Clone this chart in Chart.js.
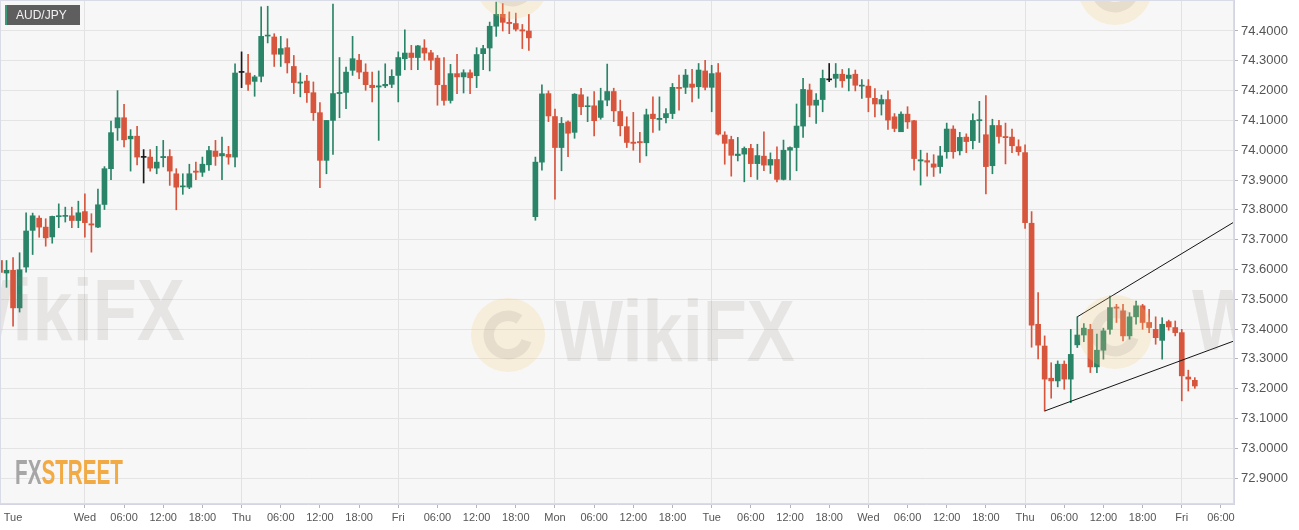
<!DOCTYPE html>
<html>
<head>
<meta charset="utf-8">
<script src="https://cdn.jsdelivr.net/npm/chart.js@4.4.1/dist/chart.umd.min.js"></script>
<style>
  html, body { margin: 0; padding: 0; background: #fff; }
</style>
</head>
<body>
<canvas id="cchart" width="1299" height="530"></canvas>
<script>
// AUD/JPY hourly candles
const firstHour = 11;   // first candle = Tue 11:00
const dayNames = ["Tue", "Wed", "Thu", "Fri", "Mon", "Tue", "Wed", "Thu", "Fri"];
const slots = 190;      // hourly slots on the axis, the last few are empty

const opens = [73.63,73.588,73.597,73.471,73.608,73.731,73.772,73.742,73.709,73.777,73.778,73.78,73.764,73.794,73.753,73.742,73.818,73.938,74.075,74.109,
  74.038,74.047,73.976,73.977,73.94,73.975,73.979,73.921,73.877,73.876,73.93,73.926,73.951,73.997,73.981,73.986,73.977,74.261,74.259,74.231,
  74.248,74.383,74.38,74.322,74.344,74.281,74.225,74.232,74.193,74.126,73.966,74.10,74.19,74.194,74.268,74.302,74.262,74.218,74.212,74.216,
  74.221,74.251,74.307,74.326,74.311,74.343,74.327,74.309,74.218,74.167,74.257,74.246,74.26,74.25,74.324,74.343,74.416,74.456,74.429,74.425,
  74.404,74.40,73.777,73.96,74.19,74.113,74.009,74.095,74.06,74.186,74.146,74.149,74.11,74.168,74.197,74.13,74.079,74.027,74.029,74.025,
  74.121,74.103,74.109,74.123,74.211,74.211,74.222,74.213,74.266,74.211,74.26,74.051,74.036,73.982,73.987,74.006,73.955,73.98,73.95,73.969,
  73.902,74.00,74.009,74.081,74.202,74.151,74.17,74.236,74.241,74.255,74.241,74.255,74.215,74.215,74.174,74.155,74.17,74.112,74.062,74.121,
  74.099,73.964,73.965,73.954,73.945,73.995,74.071,73.998,74.044,74.032,74.099,74.052,73.948,74.083,74.046,74.044,74.012,73.992,73.755,73.416,
  73.343,73.235,73.226,73.282,73.232,73.347,73.38,73.399,73.273,73.329,73.399,73.474,73.461,73.377,73.441,73.478,73.422,73.399,73.362,73.425,
  73.405,73.388,73.239,73.228];
const highs = [73.73,73.63,73.64,73.656,73.79,73.789,73.78,73.77,73.779,73.82,73.809,73.809,73.829,73.854,73.787,73.87,73.945,74.098,74.2,74.154,
  74.069,74.08,74.002,74.002,74.013,74.033,74.002,73.938,73.921,73.953,73.96,73.977,74.013,74.033,74.044,74.013,74.29,74.33,74.322,74.251,
  74.481,74.483,74.391,74.382,74.374,74.318,74.259,74.251,74.229,74.16,74.10,74.49,74.311,74.279,74.382,74.322,74.29,74.262,74.266,74.29,
  74.27,74.33,74.404,74.352,74.352,74.371,74.335,74.318,74.311,74.288,74.322,74.27,74.27,74.344,74.352,74.43,74.497,74.492,74.464,74.46,
  74.422,74.456,73.977,74.219,74.199,74.138,74.11,74.099,74.19,74.208,74.179,74.197,74.208,74.289,74.208,74.168,74.112,74.127,74.06,74.138,
  74.179,74.179,74.14,74.224,74.252,74.271,74.271,74.291,74.302,74.285,74.291,74.062,74.047,74.043,74.011,74.02,74.02,74.062,73.991,74.011,
  74.034,74.011,74.155,74.241,74.222,74.19,74.269,74.291,74.291,74.271,74.274,74.269,74.237,74.237,74.207,74.185,74.199,74.123,74.129,74.146,
  74.10,74.00,73.99,73.985,74.013,74.091,74.082,74.06,74.055,74.122,74.164,74.183,74.104,74.10,74.091,74.071,74.035,74.018,73.794,73.522,
  73.377,73.287,73.293,73.293,73.399,73.441,73.418,73.416,73.383,73.403,73.511,73.483,73.483,73.455,73.494,73.483,73.466,73.441,73.438,73.43,
  73.427,73.399,73.262,73.237];
const lows = [73.56,73.54,73.41,73.457,73.591,73.65,73.708,73.678,73.688,73.74,73.759,73.74,73.74,73.708,73.658,73.74,73.801,73.901,74.033,74.011,
  73.93,73.951,73.89,73.93,73.921,73.944,73.882,73.80,73.852,73.871,73.901,73.912,73.932,73.949,73.901,73.953,73.944,74.21,74.201,74.181,
  74.229,74.36,74.281,74.281,74.259,74.19,74.179,74.16,74.10,73.874,73.921,73.986,74.109,74.139,74.251,74.24,74.201,74.162,74.033,74.21,
  74.21,74.162,74.27,74.27,74.27,74.302,74.27,74.151,74.151,74.158,74.19,74.192,74.19,74.21,74.27,74.266,74.382,74.40,74.391,74.40,
  74.341,74.335,73.765,73.933,74.096,73.836,73.931,73.978,74.04,74.119,74.096,74.048,74.104,74.149,74.096,74.048,74.009,74.00,73.959,73.981,
  74.06,74.067,74.092,74.106,74.134,74.19,74.162,74.174,74.202,74.129,74.051,73.953,73.913,73.964,73.894,73.911,73.902,73.931,73.922,73.894,
  73.90,73.90,73.931,74.043,74.112,74.09,74.129,74.23,74.211,74.211,74.199,74.199,74.174,74.129,74.112,74.118,74.07,74.062,74.062,74.073,
  73.933,73.883,73.913,73.912,73.923,73.973,73.973,73.984,73.992,74.004,74.026,73.853,73.921,74.024,73.954,73.992,73.983,73.738,73.339,73.30,
  73.125,73.168,73.206,73.198,73.153,73.338,73.358,73.254,73.254,73.299,73.383,73.422,73.36,73.366,73.416,73.399,73.388,73.349,73.299,73.396,
  73.377,73.159,73.192,73.201];
const closes = [73.59,73.597,73.471,73.599,73.729,73.78,73.742,73.706,73.778,73.78,73.78,73.764,73.79,73.757,73.749,73.817,73.938,74.059,74.109,74.035,
  74.047,73.977,73.976,73.94,73.96,73.979,73.93,73.876,73.88,73.921,73.926,73.953,73.999,73.979,73.989,73.977,74.259,74.261,74.221,74.246,
  74.382,74.386,74.322,74.341,74.293,74.227,74.229,74.193,74.126,73.966,74.10,74.19,74.194,74.262,74.307,74.262,74.22,74.21,74.216,74.221,
  74.248,74.311,74.326,74.311,74.35,74.326,74.302,74.22,74.167,74.257,74.246,74.26,74.243,74.321,74.341,74.416,74.456,74.429,74.425,74.406,
  74.40,74.377,73.96,74.189,74.115,74.009,74.09,74.057,74.188,74.146,74.149,74.099,74.166,74.197,74.132,74.082,74.026,74.023,74.025,74.119,
  74.106,74.107,74.123,74.211,74.207,74.252,74.211,74.269,74.211,74.257,74.054,74.023,73.983,73.987,74.006,73.955,73.982,73.95,73.969,73.902,
  74.00,74.009,74.081,74.204,74.151,74.168,74.241,74.236,74.255,74.233,74.252,74.218,74.218,74.177,74.155,74.17,74.101,74.073,74.121,74.095,
  73.972,73.968,73.96,73.943,73.981,74.071,73.995,74.043,74.029,74.10,74.102,73.945,74.083,74.046,74.042,74.015,73.995,73.757,73.413,73.346,
  73.232,73.226,73.282,73.232,73.315,73.38,73.403,73.273,73.329,73.394,73.472,73.47,73.377,73.441,73.478,73.422,73.405,73.371,73.416,73.407,
  73.388,73.243,73.232,73.209];

const yTicks = [72.9, 73.0, 73.1, 73.2, 73.3, 73.4, 73.5, 73.6, 73.7, 73.8, 73.9, 74.0, 74.1, 74.2, 74.3, 74.4];
// drawn channel: [slot, price] at each end
const upperTrend = [[165, 73.441], [189, 73.759]];
const lowerTrend = [[160, 73.125], [189, 73.360]];

const GREEN = '#2a8468', RED = '#d8553d';

function slotLabel(i) {
  if (i === 2) return dayNames[0];   // first day name sits near the left edge
  const h = firstHour + i, hh = h % 24;
  if (hh === 0) return dayNames[h / 24];
  return String(hh).padStart(2, '0') + ':00';
}
const labels = [];
for (let i = 0; i < slots; i++) labels.push(slotLabel(i));

// ticks every 6 hours from Wed on, plus the first day name
const xTickIdx = [2];
for (let i = 13; i < slots; i += 6) xTickIdx.push(i);

const colors = opens.map((o, i) => o < closes[i] ? GREEN : (o > closes[i] ? RED : '#1a1a1a'));
const bodies = opens.map((o, i) => [o, closes[i]]);
const wicks = lows.map((l, i) => [l, highs[i]]);

function drawMark(ctx, logoX, logoY, textX, textBase, r) {
  ctx.save();
  ctx.fillStyle = 'rgba(246,206,120,0.22)';
  ctx.beginPath(); ctx.arc(logoX, logoY, r, 0, Math.PI * 2); ctx.fill();
  ctx.strokeStyle = 'rgba(150,135,130,0.16)';
  ctx.lineWidth = r * 0.28;
  ctx.beginPath(); ctx.arc(logoX, logoY, r * 0.52, 0.3, Math.PI * 1.7); ctx.stroke();
  ctx.font = 'bold 88px "Liberation Sans", Arial, sans-serif';
  const w = ctx.measureText('WikiFX').width;
  ctx.translate(textX, textBase);
  ctx.scale(240 / w, 1);
  ctx.fillStyle = 'rgba(140,120,118,0.15)';
  ctx.fillText('WikiFX', 0, 0);
  ctx.restore();
}

const decor = {
  id: 'decor',
  beforeDraw(chart) {
    const {ctx, chartArea: a} = chart;
    ctx.save();
    ctx.fillStyle = '#ffffff';
    ctx.fillRect(0, 0, chart.width, chart.height);
    ctx.fillStyle = '#f7f7f7';
    ctx.fillRect(a.left, a.top, a.right - a.left, a.bottom - a.top);
    ctx.restore();
  },
  afterDatasetsDraw(chart) {
    const {ctx, chartArea: a} = chart;
    ctx.save();
    ctx.beginPath();
    ctx.rect(a.left, a.top, a.right - a.left, a.bottom - a.top);
    ctx.clip();
    drawMark(ctx, -105, 330, -55, 340, 37);
    drawMark(ctx, 508, 335, 555, 361, 37);
    drawMark(ctx, 1115, 332, 1192, 350, 37);
    drawMark(ctx, 512, -18, 600, -60, 37);
    drawMark(ctx, 1115, -12, 1200, -60, 37);
    ctx.restore();

    ctx.save();
    ctx.strokeStyle = '#d9dbe6';
    ctx.lineWidth = 1;
    ctx.strokeRect(a.left + 0.5, a.top + 0.5, a.right - a.left - 1, a.bottom - a.top - 1);
    // symbol tag
    ctx.fillStyle = '#5e5e5e';
    ctx.fillRect(5, 5, 75, 20);
    ctx.fillStyle = '#3c9a78';
    ctx.fillRect(5, 5, 2, 20);
    ctx.fillStyle = '#f2f2f2';
    ctx.font = '12px "Liberation Sans", Arial, sans-serif';
    ctx.textBaseline = 'middle';
    ctx.fillText('AUD/JPY', 16, 15.5);
    // brand mark
    ctx.font = 'bold 35px "Liberation Sans Narrow", "Liberation Sans", Arial, sans-serif';
    ctx.textBaseline = 'alphabetic';
    const fxW = ctx.measureText('FX').width, stW = ctx.measureText('STREET').width;
    const k = 108 / (fxW + stW);
    ctx.translate(15, 484);
    ctx.scale(k, 1);
    ctx.fillStyle = '#a6a6a6';
    ctx.fillText('FX', 0, 0);
    ctx.fillStyle = '#f2aa44';
    ctx.fillText('STREET', fxW, 0);
    ctx.restore();
  }
};

Chart.defaults.font.family = '"Liberation Sans", Arial, sans-serif';

new Chart(document.getElementById('cchart'), {
  type: 'bar',
  data: {
    labels: labels,
    datasets: [
      {
        type: 'line', xAxisID: 'x2', order: -1,
        data: upperTrend.map(p => ({x: p[0], y: p[1]})),
        borderColor: '#151515', borderWidth: 1, pointRadius: 0, fill: false
      },
      {
        type: 'line', xAxisID: 'x2', order: -1,
        data: lowerTrend.map(p => ({x: p[0], y: p[1]})),
        borderColor: '#151515', borderWidth: 1, pointRadius: 0, fill: false
      },
      {
        data: bodies, backgroundColor: colors, barThickness: 5,
        grouped: false, minBarLength: 1, borderWidth: 0, order: 0
      },
      {
        data: wicks, backgroundColor: colors, barThickness: 1,
        grouped: false, borderWidth: 0, order: 1
      }
    ]
  },
  options: {
    responsive: false,
    animation: false,
    layout: { padding: 0 },
    plugins: { legend: { display: false }, tooltip: { enabled: false } },
    scales: {
      x: {
        type: 'category',
        offset: false,
        afterBuildTicks: s => { s.ticks = xTickIdx.map(v => ({value: v})); },
        afterFit: s => { s.height = 26; s.paddingLeft = 0; s.paddingRight = 0; },
        grid: {
          offset: false,
          color: c => (c.tick && (firstHour + c.tick.value) % 24 === 0) ? '#e2e2e2' : 'rgba(0,0,0,0)',
          tickColor: c => (c.tick && c.tick.value === 2) ? 'rgba(0,0,0,0)' : '#b5b5b5',
          tickLength: 4
        },
        border: { color: '#d3d6e2' },
        ticks: {
          autoSkip: false, maxRotation: 0, minRotation: 0, padding: 3,
          color: '#555', font: { size: 11 },
          callback: v => slotLabel(v)
        }
      },
      x2: { type: 'linear', display: false, offset: false, min: 0, max: slots - 1 },
      y: {
        position: 'right',
        min: 72.813, max: 74.504,
        afterBuildTicks: s => { s.ticks = yTicks.map(v => ({value: v})); },
        afterFit: s => { s.width = 65; s.paddingTop = 0; s.paddingBottom = 0; },
        grid: { color: '#e4e4e4', tickColor: '#b5b5b5', tickLength: 4 },
        border: { color: '#d3d6e2' },
        ticks: {
          padding: 3, color: '#555', font: { size: 13 },
          callback: v => Number(v).toFixed(4)
        }
      }
    }
  },
  plugins: [decor]
});
</script>
</body>
</html>
